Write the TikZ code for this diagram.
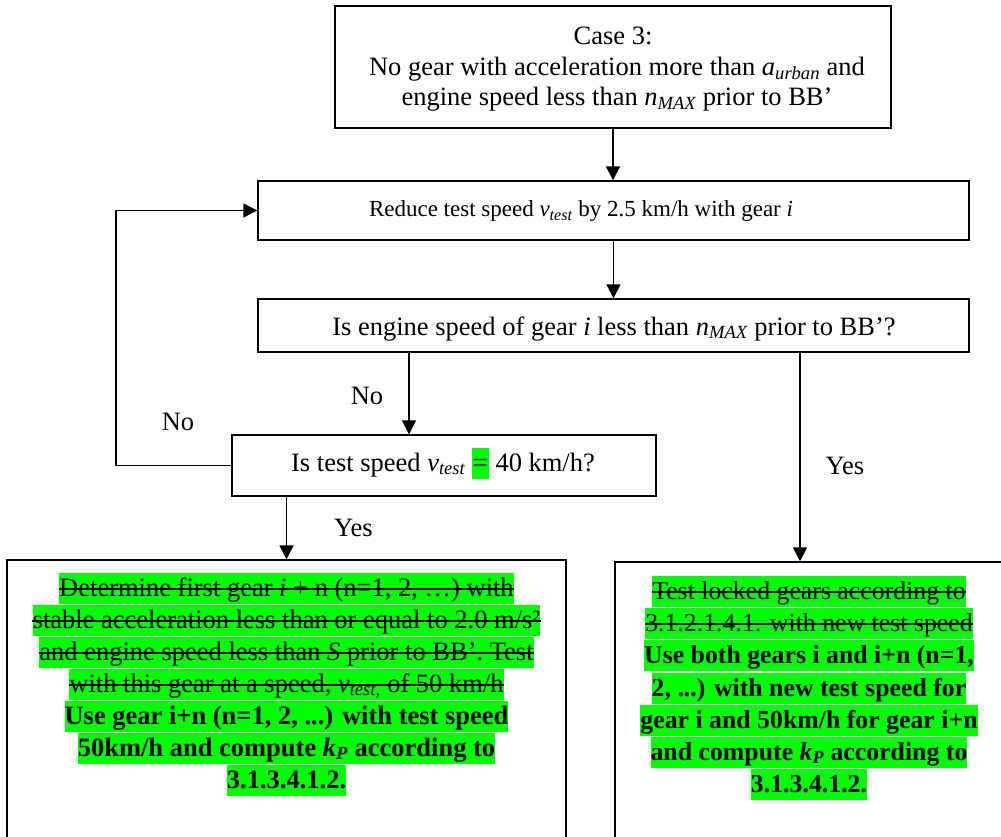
\documentclass[tikz,border=0pt]{standalone}
\usepackage{fontspec}
\setmainfont{Liberation Serif}
\usetikzlibrary{arrows.meta}
\definecolor{hlg}{HTML}{00FF00}
\newcommand\fs{\fontsize{26.5}{30.5}\selectfont}
\newcommand\fss{\fontsize{23}{28}\selectfont}
\newcommand\fsr{\fontsize{25.8}{30}\selectfont}
\newcommand\sbs[1]{\textsubscript{\itshape #1}}
\newcommand\hleq{{\setlength\fboxsep{0pt}\colorbox{hlg}{\hspace{1pt}\rule[-7.5pt]{0pt}{31pt}=\hspace{1pt}}}}
\tikzset{
  box/.style={draw, line width=1.4pt, inner sep=0pt},
  arr/.style={line width=1.4pt, -{Triangle[length=14pt,width=14pt]}},
  txt/.style={anchor=base, inner sep=0pt, font=\fs},
  hlline/.style={fill=hlg, inner xsep=0pt, inner ysep=0pt, text height=23.5pt, text depth=7.5pt, font=\fs},
  hlr/.style={hlline, font=\fsr},
  strike/.style={line width=1.3pt}
}
\begin{document}
\begin{tikzpicture}[x=1pt,y=-1pt]
\useasboundingbox (0,0) rectangle (1001,836);
\clip (0,0) rectangle (1001,836);
\fill[white] (0,0) rectangle (1001,836);

% boxes
\node[box, minimum width=556pt, minimum height=122pt] (top) at (613,67) {};
\node[box, minimum width=711pt, minimum height=59pt] (reduce) at (613.5,210.5) {};
\node[box, minimum width=711pt, minimum height=53pt] (engine) at (613.5,325.5) {};
\node[box, minimum width=424pt, minimum height=61pt] (test) at (444,465.5) {};
\node[box, minimum width=559pt, minimum height=310pt] (left) at (286.5,715) {};
\node[box, minimum width=425pt, minimum height=308pt] (right) at (827.5,716) {};

% box texts
\node[txt] (t1) at (613,44.5) {Case 3:};
\node[txt] (t2) at (617,75) {No gear with acceleration more than \textit{a}\sbs{urban} and};
\node[txt] (t3) at (617,105.5) {engine speed less than \textit{n}\sbs{MAX} prior to BB’};
\node[txt, font=\fss] (rt) at (581,216.5) {Reduce test speed \textit{v}\sbs{test} by 2.5 km/h with gear \textit{i}};
\node[txt] (et) at (614,335) {Is engine speed of gear \textit{i} less than \textit{n}\sbs{MAX} prior to BB’?};
\node[txt] (tt) at (443,471) {Is test speed \textit{v}\sbs{test} \hleq{} 40 km/h?};

% connectors
\coordinate (c1) at (409,0);
\coordinate (c2) at (800,0);
\coordinate (lp) at (116,300);
\draw[arr] (top.south) -- (top.south |- reduce.north);
\draw[arr] (reduce.south) -- (engine.north);
\draw[arr] (engine.south -| c1) -- (test.north -| c1);
\draw[arr] (engine.south -| c2) -- (right.north -| c2);
\draw[arr] (test.south -| left.north) -- (left.north);
\draw[arr] (test.west) -| (lp) |- (reduce.west);

% connector labels
\node[txt] (no1) at (367,404) {No};
\node[txt] (no2) at (178,430) {No};
\node[txt] (yes1) at (353.5,536) {Yes};
\node[txt] (yes2) at (845,474) {Yes};

% bottom left box lines
\node[hlline] (la1) at (286.5,588) {Determine first gear \textit{i} + n (n=1, 2, …) with};
\node[hlline] (la2) at (286.5,620) {stable acceleration less than or equal to 2.0 m/s²};
\node[hlline] (la3) at (286.5,652) {and engine speed less than \textit{S} prior to BB’. Test};
\node[hlline] (la4) at (286.5,684) {with this gear at a speed, \textit{v}\sbs{test,} of 50 km/h};
\node[hlline] (la5) at (286.5,716) {\bfseries Use gear i+n (n=1, 2, ...) with test speed};
\node[hlline] (la6) at (286.5,748) {\bfseries 50km/h and compute \textit{k}\sbs{P} according to};
\node[hlline] (la7) at (286.5,780) {\bfseries 3.1.3.4.1.2.};
\foreach \n in {la1,la2,la3,la4} \draw[strike] ([yshift=-1pt]\n.west) -- ([yshift=-1pt]\n.east);

% bottom right box lines
\node[hlr] (ra1) at (809,591) {Test locked gears according to};
\node[hlr] (ra2) at (809,623) {3.1.2.1.4.1. with new test speed};
\node[hlr] (ra3) at (809,655.5) {\bfseries Use both gears i and i+n (n=1,};
\node[hlr] (ra4) at (809,688) {\bfseries 2, ...) with new test speed for};
\node[hlr] (ra5) at (809,720) {\bfseries gear i and 50km/h for gear i+n};
\node[hlr] (ra6) at (809,752) {\bfseries and compute \textit{k}\sbs{P} according to};
\node[hlr] (ra7) at (809,784) {\bfseries 3.1.3.4.1.2.};
\foreach \n in {ra1,ra2} \draw[strike] ([yshift=-1pt]\n.west) -- ([yshift=-1pt]\n.east);
\end{tikzpicture}
\end{document}
